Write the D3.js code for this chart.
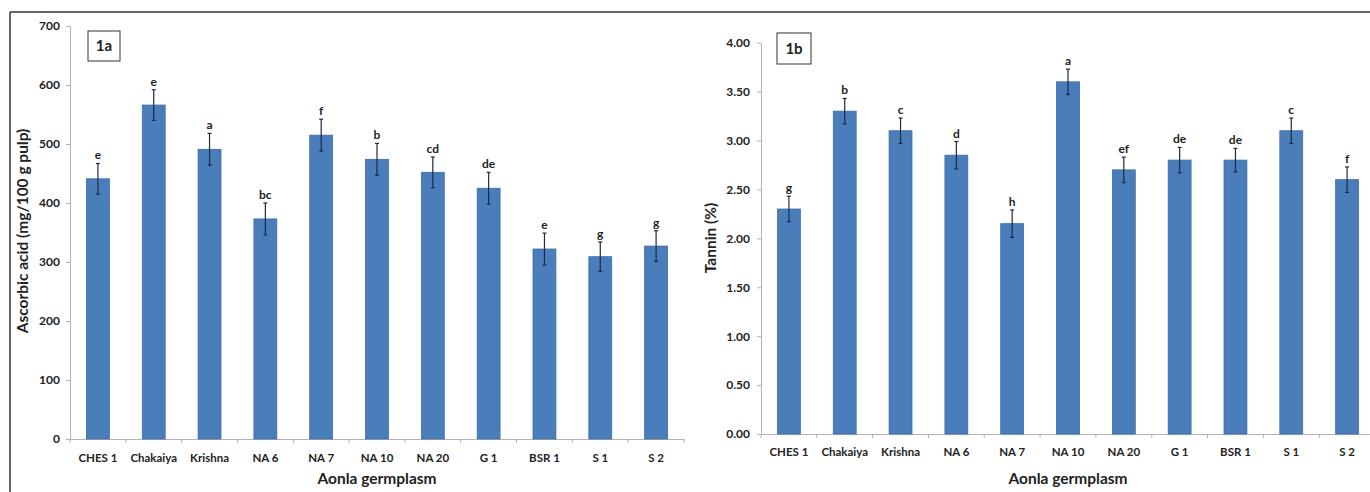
<!DOCTYPE html>
<html><head><meta charset="utf-8">
<script src="https://cdn.jsdelivr.net/npm/d3@7"></script>
<style>
body{margin:0;background:#fff;}
svg text{font-family:Lato,"Open Sans",sans-serif;font-weight:bold;fill:#222;}
</style>
</head><body>
<svg id="chart" width="1370" height="492"></svg>
<script>
const categories = ["CHES 1","Chakaiya","Krishna","NA 6","NA 7","NA 10","NA 20","G 1","BSR 1","S 1","S 2"];

const ascorbicValues  = [441,566,491,373,515,474,452,425,322,309,327];
const ascorbicErrors  = [26,26,27,27,27,27,26,27,27,25,26];
const ascorbicLetters = ["e","e","a","bc","f","b","cd","de","e","g","g"];
const ascorbicTicks   = [0,100,200,300,400,500,600,700];

const tanninValues  = [2.30,3.30,3.10,2.85,2.15,3.60,2.70,2.80,2.80,3.10,2.60];
const tanninErrors  = [0.13,0.13,0.13,0.14,0.14,0.13,0.13,0.13,0.12,0.13,0.13];
const tanninLetters = ["g","b","c","d","h","a","ef","de","de","c","f"];
const tanninTicks   = [0,0.5,1,1.5,2,2.5,3,3.5,4];

const svg = d3.select("#chart");
const BAR = "#4a7ebb", BAR_EDGE = "#3b6ba6", AXIS = "#b3b3b3", ERR = "#1c2a48";

// outer frame (top and left)
svg.append("line").attr("x1",10).attr("x2",1370).attr("y1",12).attr("y2",12).attr("stroke","#333").attr("stroke-width",1.5);
svg.append("line").attr("x1",10).attr("x2",10).attr("y1",12).attr("y2",492).attr("stroke","#333").attr("stroke-width",1.5);

function panel(cfg){
  const x = d3.scaleBand().domain(categories).range([cfg.x0,cfg.x1]).paddingInner(0.59).paddingOuter(0.295);
  const y = d3.scaleLinear().domain([0,cfg.max]).range([cfg.yb,cfg.yt]);
  const g = svg.append("g");

  // y axis
  const ya = g.append("g").attr("transform",`translate(${cfg.x0},0)`)
    .call(d3.axisLeft(y).tickValues(cfg.ticks).tickFormat(cfg.fmt).tickSize(4).tickSizeOuter(0).tickPadding(cfg.ypad));
  ya.select(".domain").attr("stroke",AXIS);
  ya.selectAll(".tick line").attr("stroke",AXIS);
  ya.selectAll("text").attr("font-size",12).attr("fill","#222");

  // x axis
  const xa = g.append("g").attr("transform",`translate(0,${cfg.yb})`)
    .call(d3.axisBottom(x).tickSize(0).tickSizeOuter(0).tickPadding(cfg.xpad));
  xa.select(".domain").attr("stroke",AXIS);
  xa.selectAll("text").attr("font-size",11.5).attr("fill","#222");
  // boundary ticks
  const bounds = d3.range(categories.length+1).map(i => cfg.x0 + i*x.step());
  g.selectAll(".bt").data(bounds).join("line")
    .attr("x1",d=>d).attr("x2",d=>d).attr("y1",cfg.yb).attr("y2",cfg.yb+4).attr("stroke",AXIS);

  // bars
  g.selectAll(".bar").data(cfg.values).join("rect")
    .attr("x",(d,i)=>x(categories[i])).attr("width",x.bandwidth())
    .attr("y",d=>y(d)).attr("height",d=>cfg.yb-y(d))
    .attr("fill",BAR).attr("stroke",BAR_EDGE).attr("stroke-width",0.8);

  // error bars
  const cx = i => x(categories[i]) + x.bandwidth()/2;
  cfg.values.forEach((v,i)=>{
    const e = cfg.errs[i];
    g.append("line").attr("x1",cx(i)).attr("x2",cx(i)).attr("y1",y(v+e)).attr("y2",y(v-e)).attr("stroke",ERR).attr("stroke-width",1.2);
    [v+e,v-e].forEach(t=>{
      g.append("line").attr("x1",cx(i)-2).attr("x2",cx(i)+2).attr("y1",y(t)).attr("y2",y(t)).attr("stroke",ERR).attr("stroke-width",1.2);
    });
    g.append("text").attr("x",cx(i)).attr("y",y(v+e)-4).attr("text-anchor","middle")
      .attr("font-size",12).text(cfg.letters[i]);
  });

  // axis titles
  g.append("text").attr("transform",`translate(${cfg.ylx},${cfg.yly}) rotate(-90)`)
    .attr("text-anchor","middle").attr("font-size",15.5).attr("dy","0.35em").text(cfg.ylabel);
  g.append("text").attr("x",(cfg.x0+cfg.x1)/2).attr("y",484).attr("text-anchor","middle")
    .attr("font-size",15.5).text("Aonla germplasm");

  // tag box
  g.append("rect").attr("x",cfg.tag[0]).attr("y",cfg.tag[1]).attr("width",cfg.tag[2]).attr("height",cfg.tag[3])
    .attr("fill","#fff").attr("stroke","#333").attr("stroke-width",1);
  g.append("text").attr("x",cfg.tag[0]+cfg.tag[2]/2).attr("y",cfg.tag[1]+cfg.tag[3]/2).attr("dy","0.35em")
    .attr("text-anchor","middle").attr("font-size",15).text(cfg.tagText);
}

panel({x0:70,x1:684,yt:26,yb:439,max:700,ticks:ascorbicTicks,fmt:d3.format("d"),
  values:ascorbicValues,errs:ascorbicErrors,letters:ascorbicLetters,ypad:6,xpad:15,
  ylabel:"Ascorbic acid (mg/100 g pulp)",ylx:23,yly:231,tag:[88,31,32,30],tagText:"1a"});

panel({x0:761,x1:1375,yt:42.7,yb:434,max:4,ticks:tanninTicks,fmt:d3.format(".2f"),
  values:tanninValues,errs:tanninErrors,letters:tanninLetters,ypad:7,xpad:14,
  ylabel:"Tannin (%)",ylx:711,yly:238,tag:[777,33,34,31],tagText:"1b"});
</script>
</body></html>
